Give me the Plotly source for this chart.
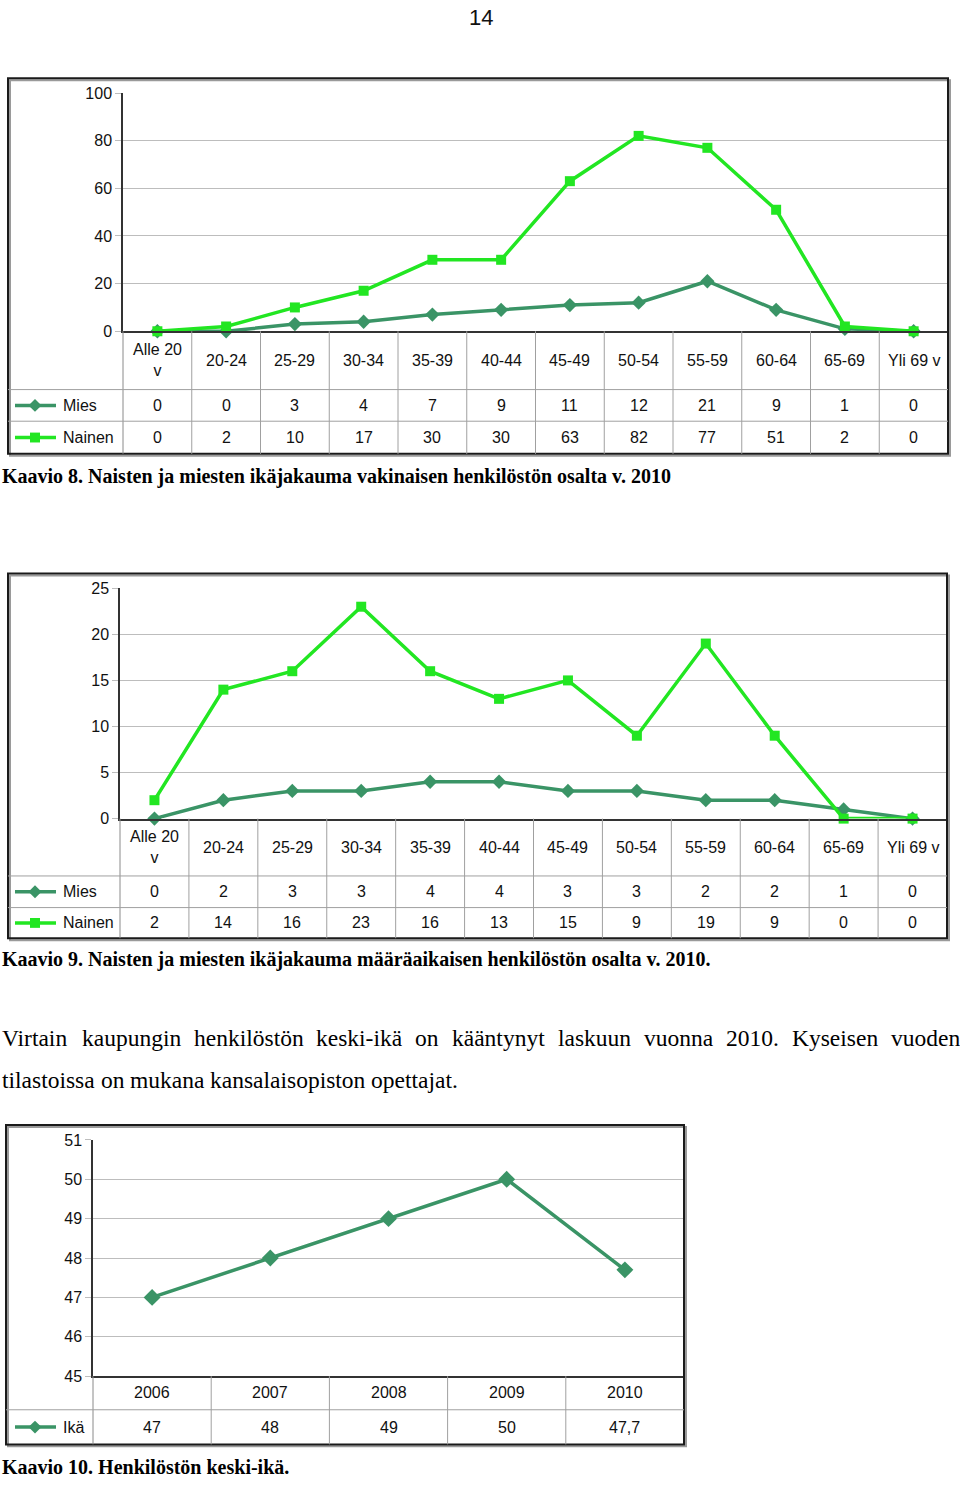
import plotly.graph_objects as go

W, H = 960, 1486


def X(p):
    return p / W


def Y(p):
    return 1 - p / H


# ---------------- data ----------------
age_groups = ["Alle 20 v", "20-24", "25-29", "30-34", "35-39", "40-44",
              "45-49", "50-54", "55-59", "60-64", "65-69", "Yli 69 v"]
age_header = ["Alle 20<br>v", "20-24", "25-29", "30-34", "35-39", "40-44",
              "45-49", "50-54", "55-59", "60-64", "65-69", "Yli 69 v"]
mies_vakinainen = [0, 0, 3, 4, 7, 9, 11, 12, 21, 9, 1, 0]
nainen_vakinainen = [0, 2, 10, 17, 30, 30, 63, 82, 77, 51, 2, 0]
mies_maaraaik = [0, 2, 3, 3, 4, 4, 3, 3, 2, 2, 1, 0]
nainen_maaraaik = [2, 14, 16, 23, 16, 13, 15, 9, 19, 9, 0, 0]
years = ["2006", "2007", "2008", "2009", "2010"]
keski_ika = [47, 48, 49, 50, 47.7]

MIES_C = "#3a9466"
NAINEN_C = "#22e622"
SANS = "Liberation Sans, Arial, sans-serif"
SERIF = "Liberation Serif, Times New Roman, serif"


def fmt(v):
    s = ("%g" % v)
    return s.replace(".", ",")


fig = go.Figure()
shapes = []
annotations = []


def legend_symbol(cy, color, symbol):
    shapes.append(dict(type="line", xref="paper", yref="paper",
                       x0=X(15), x1=X(56), y0=Y(cy), y1=Y(cy),
                       line=dict(color=color, width=3.5)))
    cx = 35
    if symbol == "diamond":
        r = 6.5
        path = "M %f %f L %f %f L %f %f L %f %f Z" % (
            X(cx), Y(cy - r), X(cx + r), Y(cy), X(cx), Y(cy + r), X(cx - r), Y(cy))
    else:
        r = 5
        path = "M %f %f L %f %f L %f %f L %f %f Z" % (
            X(cx - r), Y(cy - r), X(cx + r), Y(cy - r), X(cx + r), Y(cy + r), X(cx - r), Y(cy + r))
    shapes.append(dict(type="path", xref="paper", yref="paper", path=path,
                       fillcolor=color, line=dict(color=color, width=0)))


def add_chart(idx, frame, plot, row_bounds, yrange, dtick, cats, header, series):
    fl, ft, fr, fb = frame
    pl, pt, pr, pb = plot
    xa = "x" if idx == 1 else "x%d" % idx
    ya = "y" if idx == 1 else "y%d" % idx
    xk = "xaxis" if idx == 1 else "xaxis%d" % idx
    yk = "yaxis" if idx == 1 else "yaxis%d" % idx
    n = len(cats)

    for name, vals, color, symbol, size in series:
        fig.add_trace(go.Scatter(
            x=cats, y=vals, name=name, mode="lines+markers",
            line=dict(color=color, width=3.5),
            marker=dict(symbol=symbol, size=size, color=color),
            xaxis=xa, yaxis=ya, cliponaxis=False, showlegend=False))

    fig.layout[xk] = dict(domain=[X(pl), X(pr)], anchor=ya, type="category",
                          categoryorder="array", categoryarray=cats,
                          range=[-0.5, n - 0.5], showticklabels=False,
                          showgrid=False, zeroline=False, showline=True,
                          linecolor="#333", linewidth=1.5, ticks="",
                          fixedrange=True)
    fig.layout[yk] = dict(domain=[Y(pb), Y(pt)], anchor=xa, range=yrange,
                          dtick=dtick, tick0=yrange[0], showgrid=True,
                          gridcolor="#bdbdbd", gridwidth=1, zeroline=False,
                          showline=True, linecolor="#333", linewidth=1.5,
                          ticks="outside", ticklen=6, tickcolor="#bdbdbd",
                          tickfont=dict(family=SANS, size=16, color="#111"),
                          fixedrange=True)

    # outer frame with a faint shadow
    shapes.append(dict(type="rect", xref="paper", yref="paper",
                       x0=X(fl + 2), x1=X(fr + 2), y0=Y(fb + 2), y1=Y(ft + 2),
                       line=dict(color="#9a9a9a", width=2)))
    shapes.append(dict(type="rect", xref="paper", yref="paper",
                       x0=X(fl), x1=X(fr), y0=Y(fb), y1=Y(ft),
                       line=dict(color="#1a1a1a", width=2), fillcolor="rgba(0,0,0,0)"))
    # table: vertical separators
    for i in range(1, n):
        shapes.append(dict(type="line", xref=xa, yref="paper",
                           x0=i - 0.5, x1=i - 0.5, y0=Y(pb), y1=Y(fb),
                           line=dict(color="#a0a0a0", width=1)))
    shapes.append(dict(type="line", xref="paper", yref="paper",
                       x0=X(pl), x1=X(pl), y0=Y(pb), y1=Y(fb),
                       line=dict(color="#8a8a8a", width=1)))
    # table: horizontal separators
    for yb in row_bounds[1:-1]:
        shapes.append(dict(type="line", xref="paper", yref="paper",
                           x0=X(fl), x1=X(fr), y0=Y(yb), y1=Y(yb),
                           line=dict(color="#a0a0a0", width=1)))
    # header labels
    hc = (row_bounds[0] + row_bounds[1]) / 2
    for i, lab in enumerate(header):
        annotations.append(dict(xref=xa, yref="paper", x=i, y=Y(hc),
                                text=lab, showarrow=False, xanchor="center",
                                yanchor="middle",
                                font=dict(family=SANS, size=16, color="#111")))
    # value rows
    for r, (name, vals, color, symbol, size) in enumerate(series):
        cy = (row_bounds[r + 1] + row_bounds[r + 2]) / 2
        legend_symbol(cy, color, symbol)
        annotations.append(dict(xref="paper", yref="paper", x=X(61), y=Y(cy),
                                text=name, showarrow=False, xanchor="left",
                                yanchor="middle",
                                font=dict(family=SANS, size=16, color="#111")))
        for i, v in enumerate(vals):
            annotations.append(dict(xref=xa, yref="paper", x=i, y=Y(cy),
                                    text=fmt(v), showarrow=False,
                                    xanchor="center", yanchor="middle",
                                    font=dict(family=SANS, size=16, color="#111")))


add_chart(1, (8, 71, 948, 451), (123, 86, 948, 327), [327, 386, 418, 451],
          [0, 100], 20, age_groups, age_header,
          [("Mies", mies_vakinainen, MIES_C, "diamond", 11),
           ("Nainen", nainen_vakinainen, NAINEN_C, "square", 10)])

add_chart(2, (8, 572, 947, 941), (120, 587, 947, 820), [820, 878, 910, 941],
          [0, 25], 5, age_groups, age_header,
          [("Mies", mies_maaraaik, MIES_C, "diamond", 11),
           ("Nainen", nainen_maaraaik, NAINEN_C, "square", 10)])

add_chart(3, (6, 1130, 684, 1453), (93, 1145, 684, 1384), [1384, 1418, 1453],
          [45, 51], 1, years, years,
          [("Ikä", keski_ika, MIES_C, "diamond", 13)])

# ---------------- page texts ----------------
annotations.append(dict(xref="paper", yref="paper", x=X(481), y=Y(10),
                        text="14", showarrow=False, xanchor="center",
                        yanchor="middle",
                        font=dict(family=SANS, size=22, color="#111")))

captions = [
    ("Kaavio 8. Naisten ja miesten ikäjakauma vakinaisen henkilöstön osalta v. 2010", 474),
    ("Kaavio 9. Naisten ja miesten ikäjakauma määräaikaisen henkilöstön osalta v. 2010.", 963),
    ("Kaavio 10. Henkilöstön keski-ikä.", 1476),
]
for txt, cy in captions:
    annotations.append(dict(xref="paper", yref="paper", x=0, y=Y(cy),
                            text="<b>" + txt + "</b>", showarrow=False,
                            xanchor="left", yanchor="middle",
                            font=dict(family=SERIF, size=20, color="#000")))

# justified paragraph (line 1 justified, line 2 left aligned)
TW = {' ': 250, 'a': 444, 'b': 500, 'c': 444, 'd': 500, 'e': 444, 'f': 333,
      'g': 500, 'h': 500, 'i': 278, 'j': 278, 'k': 500, 'l': 278, 'm': 778,
      'n': 500, 'o': 500, 'p': 500, 'q': 500, 'r': 333, 's': 389, 't': 278,
      'u': 500, 'v': 500, 'w': 722, 'x': 500, 'y': 500, 'z': 444, 'ä': 444,
      'ö': 500, 'K': 722, 'V': 722, '.': 250, '-': 333}
PSIZE = 23.5


def wwidth(w):
    return sum(TW.get(c, 500) for c in w) / 1000 * PSIZE


para_lines = [
    ("Virtain kaupungin henkilöstön keski-ikä on kääntynyt laskuun vuonna 2010. Kyseisen vuoden", 1042, True),
    ("tilastoissa on mukana kansalaisopiston opettajat.", 1084, False),
]
for line, cy, justify in para_lines:
    words = line.split(" ")
    widths = [wwidth(w) for w in words]
    if justify:
        gap = (958 - sum(widths)) / (len(words) - 1)
    else:
        gap = wwidth(" ")
    xpos = 0
    for w, ww in zip(words, widths):
        annotations.append(dict(xref="paper", yref="paper", x=X(xpos), y=Y(cy),
                                text=w, showarrow=False, xanchor="left",
                                yanchor="middle",
                                font=dict(family=SERIF, size=PSIZE, color="#000")))
        xpos += ww + gap

fig.update_layout(width=W, height=H, margin=dict(l=0, r=0, t=0, b=0),
                  paper_bgcolor="white", plot_bgcolor="white",
                  shapes=shapes, annotations=annotations, showlegend=False)

fig.write_html(
    "out.html",
    config={"displayModeBar": False, "responsive": False},
    post_script=("var st=document.createElement('style');"
                 "st.innerHTML='html,body{margin:0 !important;padding:0 !important;"
                 "overflow:hidden !important;}';"
                 "document.head.appendChild(st);"
                 "window.scrollTo(0,0);"))
